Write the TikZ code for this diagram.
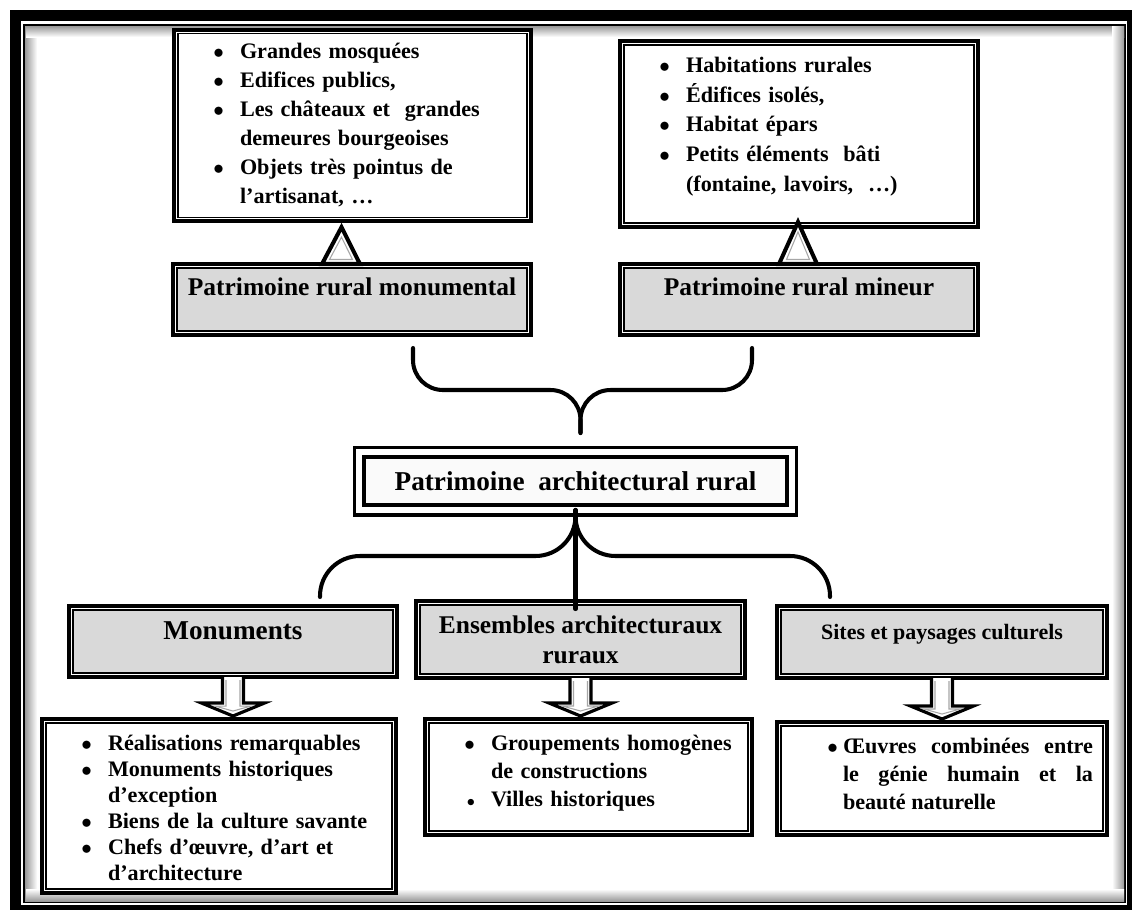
\documentclass[tikz,border=0pt]{standalone}
\usepackage{fontspec}
\setmainfont{Liberation Serif}
\usepackage{enumitem}
\setlist[itemize]{label=$\bullet$, leftmargin=1.32cm, labelsep=0.32cm, itemsep=0pt, parsep=0pt, topsep=0pt, partopsep=0pt}
\usetikzlibrary{calc}
\definecolor{boxGray}{RGB}{217,217,217}
\definecolor{paleGray}{RGB}{250,250,250}

\begin{document}
\begin{tikzpicture}[x=0.02cm, y=-0.02cm,
    boxStyle/.style={draw, line width=2.27pt, inner sep=0pt, outer sep=0pt},
    listStyle/.style={boxStyle, fill=white,
      path picture={\draw[line width=0.75pt] ([shift={(0.08cm,0.08cm)}]path picture bounding box.south west) rectangle ([shift={(-0.08cm,-0.08cm)}]path picture bounding box.north east);}},
    titleStyle/.style={boxStyle, fill=white, align=center,
      path picture={\draw[line width=0.75pt, fill=boxGray] ([shift={(0.08cm,0.08cm)}]path picture bounding box.south west) rectangle ([shift={(-0.08cm,-0.08cm)}]path picture bounding box.north east);}},
    mainStyle/.style={draw, line width=2pt, double=white, double distance=0.12cm, fill=paleGray, inner sep=0pt, outer sep=0pt},
    braceStyle/.style={line width=2.3pt, line cap=round},
    triStyle/.style={line width=2.3pt, line join=miter, fill=white},
    blockStyle/.style={line width=1.8pt, line join=miter, fill=white},
    innerStyle/.style={line width=0.6pt, draw=gray!70},
  ]
  \useasboundingbox (0,0) rectangle (1132,910);

  % page frame
  \fill[black] (10,10) rectangle (1132,910);
  \fill[white] (21,21) rectangle (1127,905);
  \draw[line width=0.04cm] (24,25) rectangle (1125,902);
  \shade[left color=gray!80, right color=white] (25,26) rectangle (37,901);
  \shade[top color=gray!80, bottom color=white] (26,26) rectangle (1124,37);
  \shade[left color=white, right color=gray!80] (1112,26) rectangle (1124,901);
  \shade[top color=white, bottom color=gray!80] (26,889) rectangle (1124,901);

  % top level
  \node[listStyle, text width=7.14cm, minimum height=3.82cm, align=left, font=\fontsize{12.6}{16.5}\selectfont\bfseries] (l1) at (352.5,125.5) {%
    \begin{itemize}
      \item Grandes mosquées
      \item Edifices publics,
      \item Les châteaux et\ \ grandes\\ demeures bourgeoises
      \item Objets très pointus de\\ l’artisanat, …
    \end{itemize}\par\kern0.28cm\hrule height 0pt};
  \node[listStyle, text width=7.16cm, minimum height=3.72cm, align=left, font=\fontsize{12.6}{16.9}\selectfont\bfseries] (l2) at (799,134) {%
    \begin{itemize}
      \item Habitations rurales
      \item Édifices isolés,
      \item Habitat épars
      \item Petits éléments\ \ bâti\\ (fontaine, lavoirs,\ \ …)
    \end{itemize}\par\kern0.58cm\hrule height 0pt};

  \node[titleStyle, minimum width=7.16cm, minimum height=1.42cm, text height=0.3cm, text depth=0.46cm, font=\fontsize{14.5}{17}\selectfont\bfseries] (g1) at (352,299.5) {Patrimoine rural monumental};
  \node[titleStyle, minimum width=7.16cm, minimum height=1.42cm, text height=0.3cm, text depth=0.46cm, font=\fontsize{14.5}{17}\selectfont\bfseries] (g2) at (799,299.5) {Patrimoine rural mineur};

  \node[mainStyle, minimum width=8.66cm, minimum height=1.16cm, font=\fontsize{15.5}{18}\selectfont\bfseries] (cen) at (575.5,481) {Patrimoine\ \ architectural rural};

  % lower level
  \node[titleStyle, minimum width=6.56cm, minimum height=1.42cm, text height=0.3cm, text depth=0.4cm, font=\fontsize{15.5}{18}\selectfont\bfseries] (mon) at (233,641.5) {Monuments};
  \node[titleStyle, minimum width=6.58cm, minimum height=1.54cm, font=\fontsize{14.5}{17}\selectfont\bfseries] (ens) at (580.5,639.5) {Ensembles architecturaux\\ruraux};
  \node[titleStyle, minimum width=6.6cm, minimum height=1.44cm, text height=0.3cm, text depth=0.42cm, font=\fontsize{12.5}{15}\selectfont\bfseries] (sit) at (942,642) {Sites et paysages culturels};

  \node[listStyle, text width=7.08cm, minimum height=3.48cm, align=left, font=\fontsize{12.6}{14.8}\selectfont\bfseries] (lm) at (219,806) {%
    \begin{itemize}
      \item Réalisations remarquables
      \item Monuments historiques\\ d’exception
      \item Biens de la culture savante
      \item Chefs d’œuvre, d’art et\\ d’architecture
    \end{itemize}\par\kern0.12cm\hrule height 0pt};
  \node[listStyle, text width=6.54cm, minimum height=2.32cm, align=left, font=\fontsize{12.6}{16}\selectfont\bfseries] (le) at (588.5,777) {%
    \begin{itemize}
      \item Groupements homogènes\\ de constructions
      \item[$\scriptstyle\bullet$] Villes historiques
    \end{itemize}\par\kern0.42cm\hrule height 0pt};
  \node[listStyle, text width=6.6cm, minimum height=2.26cm, align=justify, font=\fontsize{12.6}{16}\selectfont\bfseries] (ls) at (942,778.5) {%
    \begin{itemize}[labelsep=0.1cm, rightmargin=0.28cm]
      \item Œuvres combinées entre\linebreak le génie humain et la\linebreak beauté naturelle
    \end{itemize}\par\kern0.44cm\hrule height 0pt};

  % triangles
  \foreach \g/\l/\dx/\dy in {g1/l1/-11/6, g2/l2/-1/-5} {
    \draw[triStyle] ([shift={(\dx-19,0)}]\g.north) -- ([shift={(\dx,\dy)}]\l.south) -- ([shift={(\dx+19,0)}]\g.north) -- cycle;
    \draw[innerStyle] ([shift={(\dx-11.5,-4.5)}]\g.north) -- ([shift={(\dx,\dy+10)}]\l.south) -- ([shift={(\dx+11.5,-4.5)}]\g.north) -- cycle;
  }

  % braces
  \coordinate (bl) at ($(g1.south)+(61,13)$);
  \coordinate (br) at ($(g2.south)+(-47,13)$);
  \coordinate (bt) at ($(cen.north)+(5,-19)$);
  \coordinate (bh) at ($(bt)+(0,-43)$);
  \draw[braceStyle, rounded corners=0.6cm] (bl) |- (bh) -- (bt);
  \draw[braceStyle, rounded corners=0.6cm] (br) |- (bh) -- (bt);

  \coordinate (ml) at ($(mon.north)+(87,-9)$);
  \coordinate (mr) at ($(sit.north)+(-112,-9)$);
  \coordinate (mh) at ($(cen.south)+(0,46)$);
  \draw[braceStyle, rounded corners=0.8cm] (cen.south) |- (ml |- mh) -- (ml);
  \draw[braceStyle, rounded corners=0.8cm] (cen.south) |- (mr |- mh) -- (mr);
  \draw[braceStyle] (cen.south) -- ($(cen.south |- ens.north)+(0,8)$);

  % block arrows
  \foreach \a/\b in {mon/lm, ens/le, sit/ls} {
    \coordinate (tip) at ($(\a.south |- \b.north)+(0,-3)$);
    \draw[blockStyle] ([shift={(-10.5,0)}]\a.south) -- ([shift={(-10.5,-13)}]tip) -- ([shift={(-31.5,-13)}]tip) -- (tip) -- ([shift={(31.5,-13)}]tip) -- ([shift={(10.5,-13)}]tip) -- ([shift={(10.5,0)}]\a.south);
    \draw[innerStyle] ([shift={(-7,3)}]\a.south) -- ([shift={(-7,-10)}]tip) -- ([shift={(-18,-10)}]tip) -- ([shift={(0,-5)}]tip) -- ([shift={(18,-10)}]tip) -- ([shift={(7,-10)}]tip) -- ([shift={(7,3)}]\a.south);
  }
\end{tikzpicture}
\end{document}
